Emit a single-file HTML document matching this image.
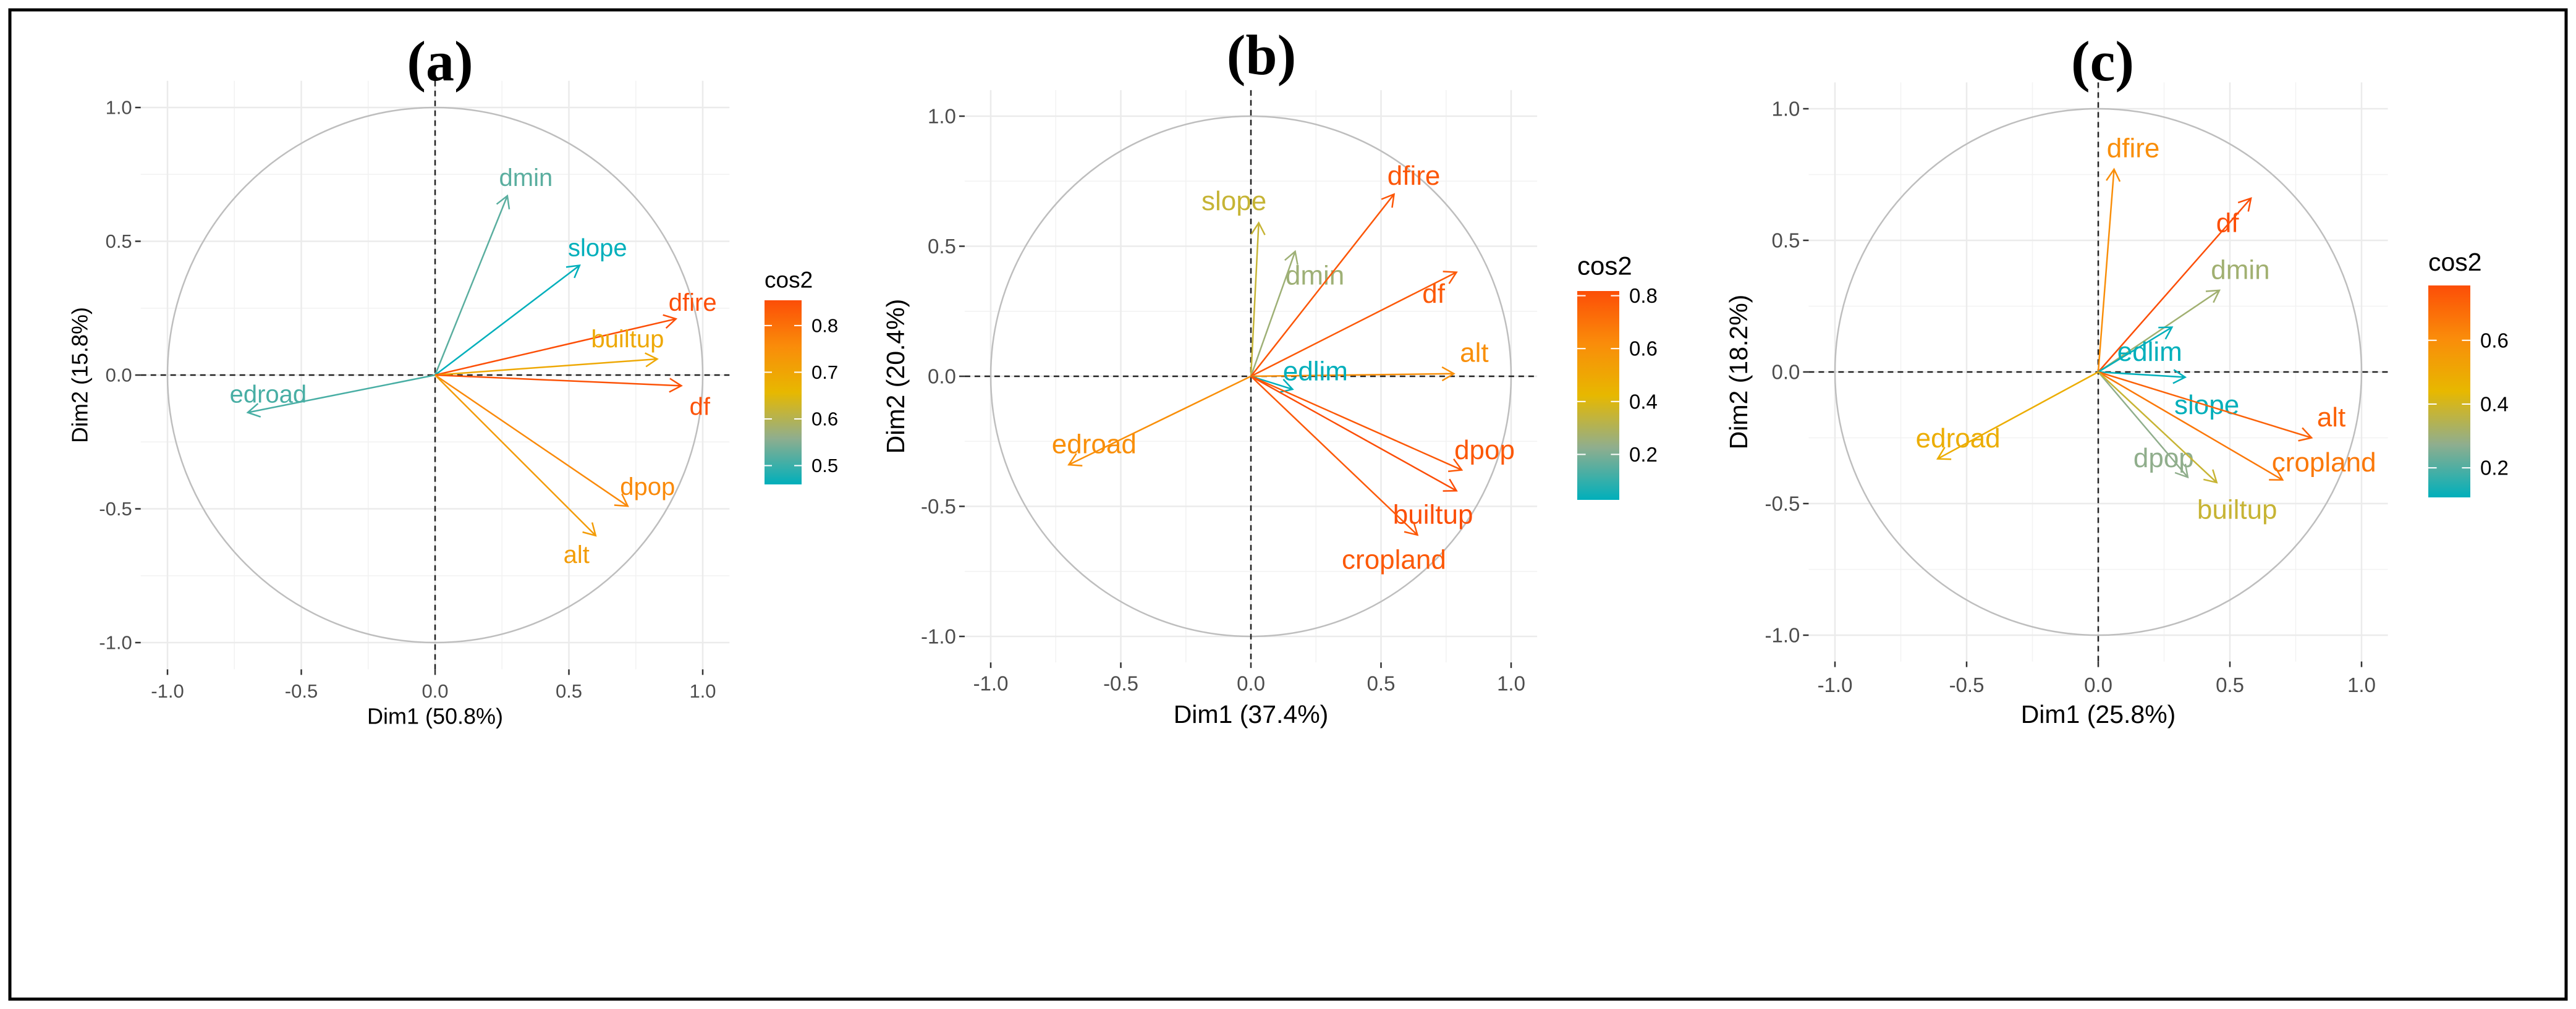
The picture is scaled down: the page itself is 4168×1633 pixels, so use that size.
<!DOCTYPE html>
<html><head><meta charset="utf-8">
<style>
html,body{margin:0;padding:0;background:#fff;}
svg{display:block;font-family:"Liberation Sans",Arial,sans-serif;}
</style></head>
<body>
<svg id="fig" width="4168" height="1633" viewBox="0 0 4168 1633" xmlns="http://www.w3.org/2000/svg">
<rect x="16" y="16" width="4136" height="1601" fill="#fff" stroke="#000" stroke-width="5"/>
</svg>
<script>
// Panel (a)
const aNames = ["dmin","slope","dfire","builtup","df","edroad","dpop","alt"];
const aDim1 = [0.27,0.54,0.90,0.83,0.92,-0.70,0.72,0.60];
const aDim2 = [0.67,0.41,0.21,0.06,-0.04,-0.14,-0.49,-0.60];
const aLegendTicks = [0.5,0.6,0.7,0.8];
const aLabDX = [30,29,27,-48,30,33,32,-31];
const aLabDY = [-29,-28,-26,-32,34,-29,-31,31];
// Panel (b)
const bNames = ["slope","dmin","dfire","df","alt","edlim","edroad","dpop","builtup","cropland"];
const bDim1 = [0.03,0.17,0.55,0.79,0.78,0.16,-0.70,0.81,0.79,0.64];
const bDim2 = [0.59,0.48,0.70,0.40,0.01,-0.05,-0.34,-0.36,-0.44,-0.61];
const bLegendTicks = [0.2,0.4,0.6,0.8];
const bLabDX = [-40,32,32,-37,33,37,41,37,-38,-38];
const bLabDY = [-35,39,-30,35,-34,-29,-33,-32,39,40];
// Panel (c)
const cNames = ["dfire","df","dmin","edlim","slope","alt","cropland","dpop","builtup","edroad"];
const cDim1 = [0.06,0.58,0.46,0.28,0.33,0.81,0.70,0.34,0.45,-0.61];
const cDim2 = [0.77,0.66,0.31,0.17,-0.02,-0.25,-0.41,-0.40,-0.42,-0.33];
const cLegendTicks = [0.2,0.4,0.6];
const cLabDX = [31,-38,34,-36,35,32,67,-39,33,33];
const cLabDY = [-34,40,-33,40,45,-33,-28,-31,44,-33];
const axisTicks = [-1.0,-0.5,0.0,0.5,1.0];
const axisTickLabels = ["-1.0","-0.5","0.0","0.5","1.0"];
const minorTicks = [-0.75,-0.25,0.25,0.75];

const NS="http://www.w3.org/2000/svg";
const svg=document.getElementById('fig');
function mk(tag,attrs,parent){const e=document.createElementNS(NS,tag);for(const k in attrs)e.setAttribute(k,attrs[k]);(parent||svg).appendChild(e);return e;}
function hex2rgb(h){return [1,3,5].map(i=>parseInt(h.substr(i,2),16));}
const gStops=[[0,'#00AFBB'],[0.25,'#8FAE8E'],[0.5,'#E7B800'],[0.75,'#FA8C0A'],[1,'#FC4E07']];
function colorFor(v,lo,hi){
  let t=Math.max(0,Math.min(1,(v-lo)/(hi-lo)));
  for(let k=0;k<gStops.length-1;k++){
    const [t0,c0]=gStops[k],[t1,c1]=gStops[k+1];
    if(t<=t1){const f=(t-t0)/(t1-t0);const A=hex2rgb(c0),B=hex2rgb(c1);
      return 'rgb('+A.map((x,i)=>Math.round(x+(B[i]-x)*f)).join(',')+')';}
  }
  return '#FC4E07';
}

function panel(p){
  const g=mk('g',{});
  
  
  const X=v=>p.x0+p.u*v, Y=v=>p.y0-p.u*v;
  const gl=X(-1.1),gr=X(1.1),gt=Y(1.1),gb=Y(-1.1);
  minorTicks.forEach(t=>{
    const l1=mk('line',{x1:X(t),x2:X(t),y1:gt,y2:gb,stroke:'#F2F2F2','stroke-width':1.5},g);
    
    const l2=mk('line',{x1:gl,x2:gr,y1:Y(t),y2:Y(t),stroke:'#F2F2F2','stroke-width':1.5},g);
    
  });
  axisTicks.forEach((t,i)=>{
    const l1=mk('line',{x1:X(t),x2:X(t),y1:gt,y2:gb,stroke:'#EBEBEB','stroke-width':2.5},g);
    
    const l2=mk('line',{x1:gl,x2:gr,y1:Y(t),y2:Y(t),stroke:'#EBEBEB','stroke-width':2.5},g);
    
    const tx=mk('line',{x1:X(t),x2:X(t),y1:gb,y2:gb+9,stroke:'#333','stroke-width':2.5},g);
    
    const ty=mk('line',{x1:gl-9,x2:gl,y1:Y(t),y2:Y(t),stroke:'#333','stroke-width':2.5},g);
    
    const lx=mk('text',{x:X(t),y:gb+p.tickOff,'font-size':p.tickFs,fill:'#4D4D4D','text-anchor':'middle','dominant-baseline':'central'},g);
    lx.textContent=axisTickLabels[i];
    
    const ly=mk('text',{x:gl-14,y:Y(t),'font-size':p.tickFs,fill:'#4D4D4D','text-anchor':'end','dominant-baseline':'central'},g);
    ly.textContent=axisTickLabels[i];
    
  });
  const circ=mk('circle',{cx:X(0),cy:Y(0),r:p.u,fill:'none',stroke:'#BEBEBE','stroke-width':2.5},g);
  
  const hx=mk('line',{x1:gl,x2:gr,y1:Y(0),y2:Y(0),stroke:'#222','stroke-width':2.5,'stroke-dasharray':'9,7'},g);
  
  const vy=mk('line',{x1:X(0),x2:X(0),y1:gt,y2:gb,stroke:'#222','stroke-width':2.5,'stroke-dasharray':'9,7'},g);
  
  const cos2=p.d1.map((v,i)=>v*v+p.d2[i]*p.d2[i]);
  const lo=Math.min(...cos2),hi=Math.max(...cos2);
  p.names.forEach((n,i)=>{
    const ex=X(p.d1[i]),ey=Y(p.d2[i]),col=colorFor(cos2[i],lo,hi);
    const ag=mk('g',{},g);
    
    mk('line',{x1:X(0),y1:Y(0),x2:ex,y2:ey,stroke:col,'stroke-width':2.5},ag);
    const ang=Math.atan2(ey-Y(0),ex-X(0)),L=22,A=Math.PI/6;
    const p1=[ex-L*Math.cos(ang-A),ey-L*Math.sin(ang-A)],p2=[ex-L*Math.cos(ang+A),ey-L*Math.sin(ang+A)];
    mk('polyline',{points:p1.join(',')+' '+ex+','+ey+' '+p2.join(','),fill:'none',stroke:col,'stroke-width':2.5},ag);
    const t=mk('text',{x:ex+p.ldx[i],y:ey+p.ldy[i],'font-size':p.labFs,fill:col,'text-anchor':'middle','dominant-baseline':'central'},g);
    t.textContent=n;
    
  });
  const tt=mk('text',{x:p.titleX,y:p.titleY,'font-size':92,'font-weight':'bold','font-family':'"Liberation Serif",serif','text-anchor':'middle','dominant-baseline':'central',fill:'#000'},g);
  tt.textContent='('+p.id+')';
  
  const xt=mk('text',{x:X(0),y:p.xTitleY,'font-size':p.axFs,'text-anchor':'middle','dominant-baseline':'central',fill:'#000'},g);
  xt.textContent=p.xTitle;
  
  const yt=mk('text',{x:p.yTitleX,y:Y(0),'font-size':p.axFs,'text-anchor':'middle','dominant-baseline':'central',fill:'#000',transform:'rotate(-90 '+p.yTitleX+' '+Y(0)+')'},g);
  yt.textContent=p.yTitle;
  
  const lg=mk('g',{},g);
  
  const lt=mk('text',{x:p.bx,y:p.legTitleY,'font-size':p.legFs,'dominant-baseline':'central',fill:'#000'},lg);
  lt.textContent='cos2';
  
  const gid='grad'+p.id;
  const defs=mk('defs',{},lg);
  const gr2=mk('linearGradient',{id:gid,x1:0,y1:1,x2:0,y2:0},defs);
  for(let k=0;k<=20;k++){const v=lo+(hi-lo)*k/20;mk('stop',{offset:k/20,'stop-color':colorFor(v,lo,hi)},gr2);}
  const bar=mk('rect',{x:p.bx,y:p.bt,width:p.bw,height:p.bb-p.bt,fill:'url(#'+gid+')'},lg);
  
  p.lt.forEach(v=>{
    const yy=p.bb-(v-lo)/(hi-lo)*(p.bb-p.bt);
    mk('line',{x1:p.bx,x2:p.bx+p.bw*0.2,y1:yy,y2:yy,stroke:'#fff','stroke-width':2},lg);
    mk('line',{x1:p.bx+p.bw*0.8,x2:p.bx+p.bw,y1:yy,y2:yy,stroke:'#fff','stroke-width':2},lg);
    const tl=mk('text',{x:p.bx+p.bw+16,y:yy,'font-size':p.tickFs,fill:'#000','dominant-baseline':'central'},lg);
    tl.textContent=v.toFixed(1);
    
  });
}
panel({id:'a',x0:704,y0:607,u:433,names:aNames,d1:aDim1,d2:aDim2,ldx:aLabDX,ldy:aLabDY,lt:aLegendTicks,
  labFs:40,tickFs:31,axFs:36,legFs:37,tickOff:35,titleX:712,titleY:99,xTitle:'Dim1 (50.8%)',xTitleY:1159,yTitle:'Dim2 (15.8%)',yTitleX:129,
  bx:1237,bt:486,bb:784,bw:60,legTitleY:453});
panel({id:'b',x0:2024,y0:609,u:421,names:bNames,d1:bDim1,d2:bDim2,ldx:bLabDX,ldy:bLabDY,lt:bLegendTicks,
  labFs:44,tickFs:33,axFs:41,legFs:42,tickOff:34,titleX:2041,titleY:89,xTitle:'Dim1 (37.4%)',xTitleY:1156,yTitle:'Dim2 (20.4%)',yTitleX:1449,
  bx:2552,bt:471,bb:809,bw:68,legTitleY:430});
panel({id:'c',x0:3395,y0:602,u:426,names:cNames,d1:cDim1,d2:cDim2,ldx:cLabDX,ldy:cLabDY,lt:cLegendTicks,
  labFs:44,tickFs:33,axFs:41,legFs:41,tickOff:38,titleX:3402,titleY:99,xTitle:'Dim1 (25.8%)',xTitleY:1156,yTitle:'Dim2 (18.2%)',yTitleX:2813,
  bx:3929,bt:462,bb:805,bw:68,legTitleY:424});
</script>
</body></html>
